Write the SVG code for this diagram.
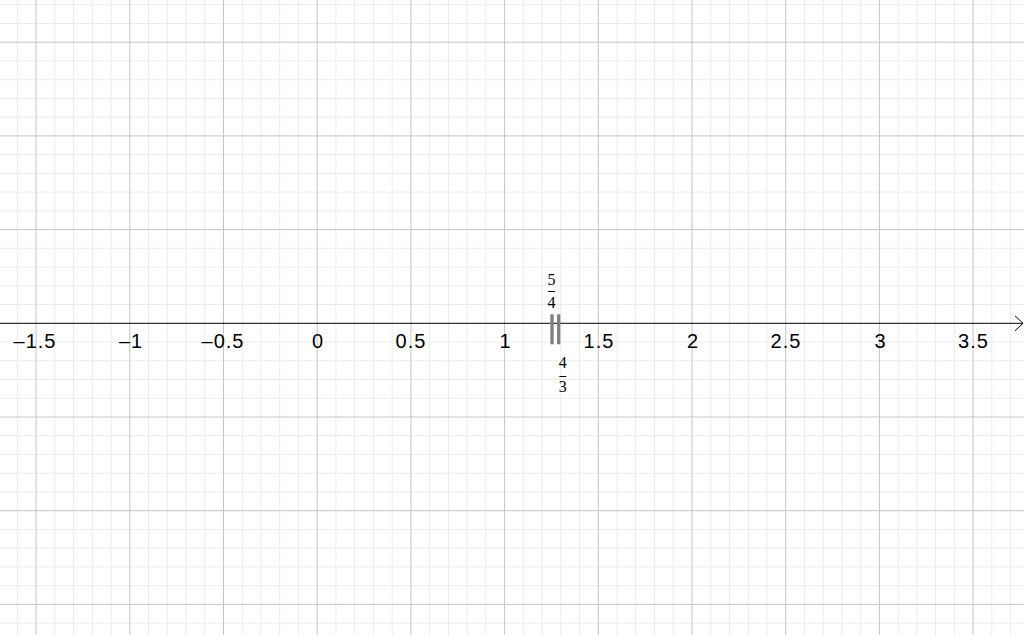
<svg xmlns="http://www.w3.org/2000/svg" width="1024" height="635" viewBox="0 0 1024 635">
<style>
.minor{stroke:#ececec;stroke-width:1;fill:none}
.major{stroke:#c4c4c4;stroke-width:1;fill:none}
.axis{stroke:#000;stroke-width:1;fill:none}
.tick{font-size:20px;fill:#000;text-anchor:middle;letter-spacing:1px}
.frac{font-size:16px;fill:#000;text-anchor:middle}
.fbar{stroke:#000;stroke-width:1}
.pt{stroke:#7f7f7f;stroke-width:3.3}
</style>
<rect width="1024" height="635" fill="#fff"/>
<g id="grid">
<path class="minor" d="M17.36 0V635M54.84 0V635M73.58 0V635M92.32 0V635M111.06 0V635M148.54 0V635M167.28 0V635M186.02 0V635M204.76 0V635M242.24 0V635M260.98 0V635M279.72 0V635M298.46 0V635M335.94 0V635M354.68 0V635M373.42 0V635M392.16 0V635M429.64 0V635M448.38 0V635M467.12 0V635M485.86 0V635M523.34 0V635M542.08 0V635M560.82 0V635M579.56 0V635M617.04 0V635M635.78 0V635M654.52 0V635M673.26 0V635M710.74 0V635M729.48 0V635M748.22 0V635M766.96 0V635M804.44 0V635M823.18 0V635M841.92 0V635M860.66 0V635M898.14 0V635M916.88 0V635M935.62 0V635M954.36 0V635M991.84 0V635M1010.58 0V635
M0 4.72H1024M0 23.46H1024M0 60.94H1024M0 79.68H1024M0 98.42H1024M0 117.16H1024M0 154.64H1024M0 173.38H1024M0 192.12H1024M0 210.86H1024M0 248.34H1024M0 267.08H1024M0 285.82H1024M0 304.56H1024M0 342.04H1024M0 360.78H1024M0 379.52H1024M0 398.26H1024M0 435.74H1024M0 454.48H1024M0 473.22H1024M0 491.96H1024M0 529.44H1024M0 548.18H1024M0 566.92H1024M0 585.66H1024M0 623.14H1024"/>
<path class="major" d="M36.1 0V635M129.8 0V635M223.5 0V635M317.2 0V635M410.9 0V635M504.6 0V635M598.3 0V635M692 0V635M785.7 0V635M879.4 0V635M973.1 0V635
M0 42.2H1024M0 135.9H1024M0 229.6H1024M0 417H1024M0 510.7H1024M0 604.4H1024"/>
</g>
<g id="axis">
<path class="axis" d="M0 323.3H1023"/>
<path class="axis" d="M1015 315.8L1023 323.3L1015 330.8"/>
</g>
<g id="ticks" font-family="'Liberation Sans', Arial, sans-serif">
<text class="tick" x="35" y="348">–1.5</text>
<text class="tick" x="131" y="348">–1</text>
<text class="tick" x="223" y="348">–0.5</text>
<text class="tick" x="318" y="348">0</text>
<text class="tick" x="411" y="348">0.5</text>
<text class="tick" x="505.5" y="348">1</text>
<text class="tick" x="599" y="348">1.5</text>
<text class="tick" x="693" y="348">2</text>
<text class="tick" x="786" y="348">2.5</text>
<text class="tick" x="880.5" y="348">3</text>
<text class="tick" x="973.5" y="348">3.5</text>
</g>
<g id="point-a" font-family="'Liberation Serif', 'DejaVu Serif', serif">
<line class="pt" x1="552" y1="314.3" x2="552" y2="344.3"/>
<text class="frac" x="551.5" y="285">5</text>
<line class="fbar" x1="548" y1="291.5" x2="555" y2="291.5"/>
<text class="frac" x="551.5" y="308.3">4</text>
</g>
<g id="point-b" font-family="'Liberation Serif', 'DejaVu Serif', serif">
<line class="pt" x1="558.7" y1="314.3" x2="558.7" y2="344.3"/>
<text class="frac" x="562.8" y="368.3">4</text>
<line class="fbar" x1="559.3" y1="376.5" x2="566.3" y2="376.5"/>
<text class="frac" x="562.8" y="391.7">3</text>
</g>
</svg>
